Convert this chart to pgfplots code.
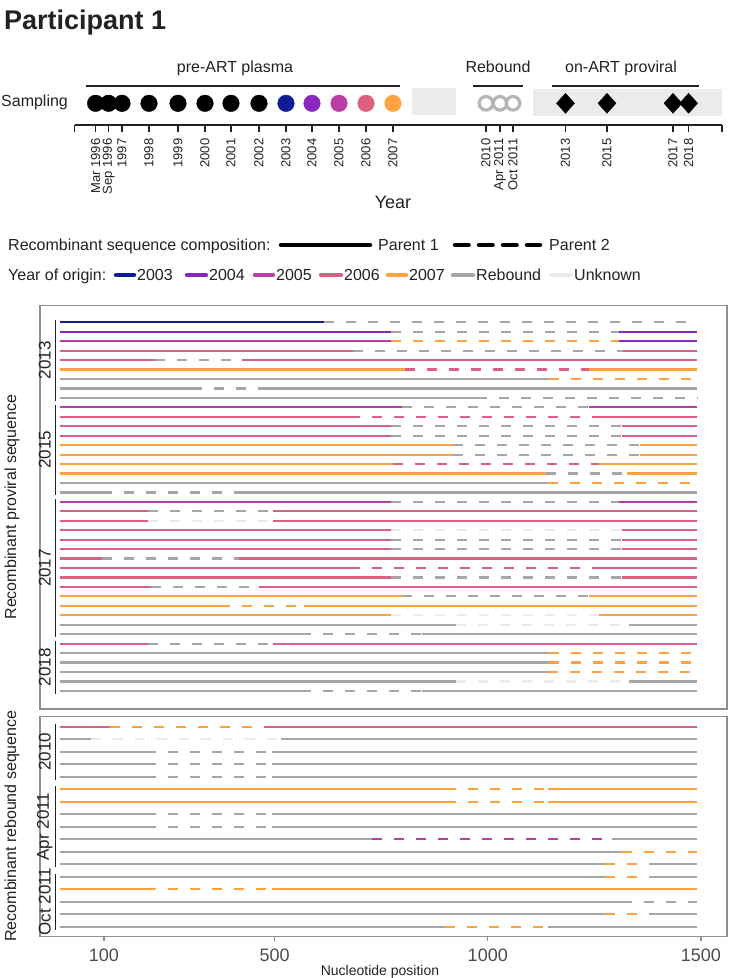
\documentclass[border=0pt]{standalone}
\usepackage{fontspec}
\setmainfont{Liberation Sans}
\usepackage{pgfplots}
\pgfplotsset{compat=1.18}

\definecolor{c03}{HTML}{0E1C95}
\definecolor{c04}{HTML}{8B26BE}
\definecolor{c05}{HTML}{BC3CA6}
\definecolor{c06}{HTML}{DC6080}
\definecolor{c07}{HTML}{FFA23F}
\definecolor{reb}{HTML}{A6A6A6}
\definecolor{unk}{HTML}{EBEBEB}
\definecolor{ring}{HTML}{B5B5B5}
\definecolor{shade}{HTML}{EBEBEB}
\definecolor{frame}{HTML}{8F8F8F}
\definecolor{ink}{HTML}{222222}
\definecolor{tickc}{HTML}{4D4D4D}

\newcommand{\fs}[1]{\fontsize{#1}{#1}\selectfont}

% one sequence: row, start and end of the dashed part, colours (left, dashed, right)
\newcommand{\seq}[6]{%
  \addplot[#4] coordinates {(-4,#1) (#2,#1)};
  \addplot[#5, dash pattern=on 10pt off 12pt] coordinates {(#2,#1) (#3,#1)};
  \addplot[#6] coordinates {(#3,#1) (1490,#1)};
}
% group bracket with its label: first, last, middle, text
\newcommand{\grp}[4]{%
  \draw[ink, line width=1.3pt] (axis cs:-14,#1) -- (axis cs:-14,#2);
  \node[rotate=90, font=\fs{17}, text=ink] at (axis cs:-39,#3) {#4};
}

\pgfplotsset{
  seqpanel/.style={
    scale only axis, width=687pt, xmin=-50, xmax=1561, y dir=reverse,
    ytick=\empty, clip=false,
    axis line style={draw=frame, line width=1.3pt},
    every axis plot/.append style={line width=2.2pt},
  },
}

\begin{document}
\begin{tikzpicture}
\useasboundingbox (0pt,0pt) rectangle (729pt,-978pt);

\node[anchor=base west, font=\fs{27}\bfseries, text=ink, inner sep=0] at (4pt,-29pt) {Participant 1};
\node[anchor=base west, font=\fs{16}, text=ink, inner sep=0] at (1pt,-106.5pt) {Sampling};
\node[anchor=base, font=\fs{18}, text=ink] at (393pt,-208pt) {Year};

% sampling timeline
\begin{axis}[
  at={(74.6pt,-125pt)}, anchor=south west, scale only axis,
  width=647.4pt, height=65pt, xmin=74.6, xmax=722, ymin=0, ymax=65,
  axis x line*=bottom, axis y line=none, clip=false,
  axis line style={ink, line width=1.3pt},
  tick align=outside, major tick length=6.5pt, tick style={ink, line width=1.3pt},
  xtick={74.6,95.6,108.6,122,149,178,205,231,259,286,312,339,366,393,486,500,513,565.5,607,673,688.6,722},
  xticklabels={{},Mar 1996,Sep 1996,1997,1998,1999,2000,2001,2002,2003,2004,2005,2006,2007,2010,Apr 2011,Oct 2011,2013,2015,2017,2018,{}},
  xticklabel shift=6pt,
  xticklabel style={rotate=90, anchor=east, font=\fs{13}, text=ink, inner sep=1pt},
]
\addplot[fill=shade, draw=none] coordinates {(412,10) (456,10) (456,37) (412,37)} -- cycle;
\addplot[fill=shade, draw=none] coordinates {(533,9) (722,9) (722,36) (533,36)} -- cycle;
\addplot[only marks, mark=*, mark size=8.3pt, black] coordinates {(95.6,21.7) (108.6,21.7) (122,21.7) (149,21.7) (178,21.7) (205,21.7) (231,21.7) (259,21.7)};
\addplot[only marks, mark=*, mark size=8.3pt, c03] coordinates {(286,21.7)};
\addplot[only marks, mark=*, mark size=8.3pt, c04] coordinates {(312,21.7)};
\addplot[only marks, mark=*, mark size=8.3pt, c05] coordinates {(339,21.7)};
\addplot[only marks, mark=*, mark size=8.3pt, c06] coordinates {(366,21.7)};
\addplot[only marks, mark=*, mark size=8.3pt, c07] coordinates {(393,21.7)};
\addplot[only marks, mark=o, mark size=6.8pt, ring, line width=3.2pt] coordinates {(486,21.7) (500,21.7) (513,21.7)};
\addplot[only marks, mark=diamond*, mark size=10pt, mark options={xscale=1.2}, black] coordinates {(565.5,21.7) (607,21.7) (673,21.7) (688.6,21.7)};
\draw[ink, line width=1.3pt] (axis cs:86,39) -- (axis cs:400,39);
\draw[ink, line width=1.3pt] (axis cs:473,39) -- (axis cs:523,39);
\draw[ink, line width=1.3pt] (axis cs:552,39) -- (axis cs:699,39);
\node[anchor=base, font=\fs{16}, text=ink] at (axis cs:235,53) {pre-ART plasma};
\node[anchor=base, font=\fs{16}, text=ink] at (axis cs:498,53) {Rebound};
\node[anchor=base, font=\fs{16}, text=ink] at (axis cs:621,53) {on-ART proviral};
\end{axis}

% legend
\begin{scope}[every node/.style={anchor=base west, inner sep=0, font=\fs{16}, text=ink}]
\node at (8pt,-250.5pt) {Recombinant sequence composition:};
\draw[black, line width=4.5pt, line cap=round] (281pt,-245pt) -- (370pt,-245pt);
\node at (378pt,-250.5pt) {Parent 1};
\draw[black, line width=4.5pt, line cap=round, dash pattern=on 13.5pt off 10.5pt] (455pt,-245pt) -- (540pt,-245pt);
\node at (549pt,-250.5pt) {Parent 2};
\node at (8pt,-280.5pt) {Year of origin:};
\foreach \a/\b/\c/\t in {116/134/c03/2003, 187/206/c04/2004, 255/273/c05/2005, 321/341/c06/2006, 388/406/c07/2007, 453/473/reb/Rebound, 552/571/unk/Unknown}{
  \draw[\c, line width=4.5pt, line cap=round] (\a pt,-275pt) -- (\b pt,-275pt);
  \node at (\b pt+3pt,-280.5pt) {\t};
}
\end{scope}

\node[rotate=90, font=\fs{16}, text=ink] at (12pt,-507pt) {Recombinant proviral sequence};
\node[rotate=90, font=\fs{16}, text=ink] at (12pt,-826pt) {Recombinant rebound sequence};
\node[anchor=base, font=\fs{14}, text=ink] at (380pt,-975pt) {Nucleotide position};

% proviral sequences
\begin{axis}[seqpanel, at={(40pt,-305.7pt)}, anchor=north west, height=403.3pt,
  ymin=-0.76, ymax=41.92, xtick=\empty]
\seq{1}{617}{1490}{c03}{reb}{reb}
\seq{2}{774}{1307}{c04}{reb}{c04}
\seq{3}{774}{1307}{c05}{c07}{c04}
\seq{4}{683}{1317}{c06}{reb}{c06}
\seq{5}{220}{424}{c06}{reb}{c06}
\seq{6}{805}{1237}{c07}{c06}{c07}
\seq{7}{1144}{1490}{reb}{c07}{reb}
\seq{8}{306}{470}{reb}{reb}{reb}
\seq{9}{974}{1490}{reb}{reb}{reb}
\seq{10}{800}{1237}{c05}{reb}{c05}
\seq{11}{676}{1262}{c06}{c06}{c06}
\seq{12}{774}{1315}{c06}{reb}{c06}
\seq{13}{774}{1315}{c06}{reb}{c06}
\seq{14}{918}{1358}{c07}{reb}{c07}
\seq{15}{918}{1358}{c07}{reb}{c07}
\seq{16}{777}{1262}{c07}{c06}{c07}
\seq{17}{1136}{1327}{c07}{reb}{c07}
\seq{18}{1141}{1490}{reb}{c07}{reb}
\seq{19}{95}{408}{reb}{reb}{reb}
\seq{20}{774}{1307}{c05}{reb}{c05}
\seq{21}{203}{496}{c06}{reb}{c06}
\seq{22}{203}{496}{c06}{unk}{c06}
\seq{23}{774}{1315}{c06}{unk}{c06}
\seq{24}{774}{1315}{c06}{reb}{c06}
\seq{25}{774}{1315}{c06}{reb}{c06}
\seq{26}{95}{417}{c06}{reb}{c06}
\seq{27}{676}{1262}{c06}{c06}{c06}
\seq{28}{774}{1315}{c06}{reb}{c06}
\seq{29}{211}{463}{c06}{reb}{c06}
\seq{30}{800}{1237}{c07}{reb}{c07}
\seq{31}{373}{570}{c07}{c07}{c07}
\seq{32}{774}{1260}{c07}{unk}{c07}
\seq{33}{926}{1331}{reb}{unk}{reb}
\seq{34}{563}{846}{reb}{reb}{reb}
\seq{35}{203}{496}{c06}{reb}{c06}
\seq{36}{1144}{1490}{reb}{c07}{reb}
\seq{37}{1144}{1490}{reb}{c07}{reb}
\seq{38}{1141}{1490}{reb}{c07}{reb}
\seq{39}{926}{1331}{reb}{unk}{reb}
\seq{40}{563}{846}{reb}{reb}{reb}
\grp{0.7}{9.3}{5}{2013}
\grp{9.7}{19.3}{14.5}{2015}
\grp{19.7}{34.3}{27}{2017}
\grp{34.7}{40.3}{37.5}{2018}
\end{axis}

% rebound sequences
\begin{axis}[seqpanel, at={(40pt,-716.5pt)}, anchor=north west, height=220.2pt,
  ymin=0.184, ymax=17.8,
  xtick={100,500,1000,1500}, xticklabels={100,500,1000,1500}, xtick pos=lower,
  tick align=outside, major tick length=4pt, tick style={draw=frame, line width=1.3pt},
  xticklabel shift=5pt,
  xticklabel style={font=\fs{18}, text=tickc},
  /pgf/number format/assume math mode=true]
\seq{1}{113}{475}{c06}{c07}{c06}
\seq{2}{69}{514}{reb}{unk}{reb}
\seq{3}{198}{493}{reb}{reb}{reb}
\seq{4}{198}{493}{reb}{reb}{reb}
\seq{5}{198}{493}{reb}{reb}{reb}
\seq{6}{902}{1141}{c07}{c07}{c07}
\seq{7}{902}{1141}{c07}{c07}{c07}
\seq{8}{198}{493}{reb}{reb}{reb}
\seq{9}{198}{493}{reb}{reb}{reb}
\seq{10}{729}{1291}{reb}{c05}{reb}
\seq{11}{1315}{1490}{reb}{c07}{reb}
\seq{12}{1275}{1381}{reb}{c07}{reb}
\seq{13}{1275}{1381}{reb}{c07}{reb}
\seq{14}{198}{493}{c07}{c07}{c07}
\seq{15}{1315}{1490}{reb}{reb}{reb}
\seq{16}{1275}{1381}{reb}{c07}{reb}
\seq{17}{899}{1141}{reb}{c07}{reb}
\grp{0.75}{5.25}{3}{2010}
\grp{5.75}{12.25}{9}{Apr 2011}
\grp{12.75}{17.3}{15}{Oct 2011}
\end{axis}
\end{tikzpicture}
\end{document}
